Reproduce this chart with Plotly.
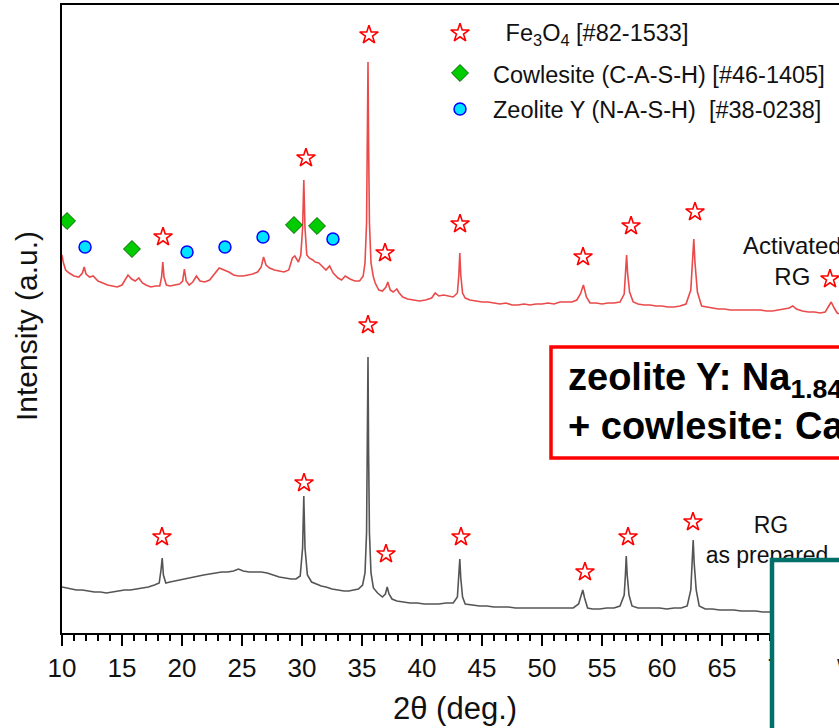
import plotly.graph_objects as go

# ---------------- data ----------------
red_2theta = [10.0, 10.1, 10.3, 10.6, 11.0, 11.4, 11.7, 11.85, 12.0, 12.3, 12.6, 13.0, 13.4, 13.8,
              14.2, 14.6, 15.0, 15.3, 15.5, 15.8, 16.1, 16.4, 16.7, 17.0, 17.4, 17.8, 18.15, 18.3,
              18.4, 18.5, 18.7, 19.0, 19.4, 19.8, 20.05, 20.2, 20.35, 20.6, 20.9, 21.2, 21.5, 21.9,
              22.3, 22.7, 23.1, 23.5, 23.9, 24.3, 24.7, 25.1, 25.5, 25.9, 26.3, 26.6, 26.8, 27.0,
              27.3, 27.7, 28.1, 28.5, 28.9, 29.2, 29.4, 29.7, 29.9, 30.05, 30.15, 30.25, 30.4, 30.6,
              30.9, 31.1, 31.4, 31.7, 32.0, 32.3, 32.6, 33.0, 33.3, 33.6, 34.0, 34.4, 34.8, 35.1,
              35.25, 35.38, 35.45, 35.5, 35.55, 35.62, 35.75, 35.95, 36.1, 36.4, 36.7, 37.0, 37.15,
              37.35, 37.6, 37.9, 38.1, 38.4, 38.8, 39.3, 39.8, 40.3, 40.8, 41.1, 41.4, 41.8, 42.2,
              42.6, 42.95, 43.07, 43.15, 43.23, 43.38, 43.6, 44.0, 44.5, 45.0, 45.5, 46.0, 46.5,
              47.0, 47.5, 48.0, 48.5, 49.0, 49.5, 50.0, 50.5, 51.0, 51.5, 52.0, 52.5, 52.9, 53.2,
              53.45, 53.7, 54.0, 54.5, 55.0, 55.5, 56.0, 56.5, 56.85, 56.97, 57.05, 57.13, 57.3,
              57.6, 58.0, 58.5, 59.0, 59.5, 60.0, 60.5, 61.0, 61.5, 62.0, 62.4, 62.55, 62.65, 62.75,
              62.95, 63.3, 63.7, 64.2, 64.7, 65.2, 65.7, 66.2, 66.7, 67.2, 67.7, 68.2, 68.7, 69.2,
              69.7, 70.2, 70.6, 70.9, 71.2, 71.7, 72.2, 72.7, 73.2, 73.6, 73.9, 74.1, 74.35, 74.6,
              74.8]
red_intensity = [378, 371, 363, 360, 357, 356, 360, 366, 359, 356, 357, 352, 350, 348,
                 347, 346, 348, 354, 358, 354, 352, 355, 350, 348, 346, 347, 347, 356,
                 371, 356, 348, 347, 348, 349, 352, 364, 352, 348, 351, 357, 352, 351,
                 353, 359, 365, 363, 361, 358, 357, 357, 358, 359, 361, 366, 376, 368,
                 365, 363, 362, 361, 363, 375, 377, 371, 378, 405, 453, 405, 378, 375,
                 373, 371, 370, 366, 363, 367, 360, 355, 353, 357, 354, 352, 352, 357,
                 370, 410, 490, 571, 490, 410, 370, 356, 350, 343, 342, 346, 351,
                 343, 341, 344, 340, 336, 334, 333, 332, 333, 335, 340, 337, 338, 337,
                 336, 340, 358, 380, 358, 340, 335, 333, 332, 331, 331, 330, 329,
                 330, 328, 328, 329, 328, 329, 329, 330, 329, 331, 331, 331, 333, 339,
                 348, 336, 330, 330, 329, 330, 330, 331, 339, 360, 378, 360, 341,
                 331, 329, 328, 328, 327, 327, 326, 326, 327, 329, 343, 370, 394, 370,
                 341, 327, 326, 325, 324, 324, 323, 323, 323, 323, 323, 323, 322, 322,
                 323, 324, 325, 327, 324, 322, 321, 321, 320, 321, 327, 331, 325, 320,
                 319]

black_2theta = [10.0, 10.4, 10.8, 11.2, 11.7, 12.2, 12.7, 13.2, 13.7, 14.2, 14.7, 15.2, 15.7,
                16.2, 16.7, 17.2, 17.7, 18.1, 18.25, 18.35, 18.45, 18.65, 19.0, 19.4, 19.8,
                20.3, 20.8, 21.3, 21.8, 22.3, 22.8, 23.3, 23.8, 24.3, 24.7, 25.1, 25.6, 26.1,
                26.6, 27.1, 27.6, 28.1, 28.6, 29.1, 29.5, 29.85, 30.05, 30.15, 30.25, 30.45,
                30.8, 31.2, 31.6, 32.0, 32.5, 33.0, 33.5, 33.9, 34.3, 34.7, 35.05, 35.25,
                35.38, 35.45, 35.5, 35.55, 35.62, 35.75, 35.95, 36.3, 36.7, 36.95, 37.1,
                37.25, 37.5, 37.9, 38.4, 39.0, 39.6, 40.2, 40.8, 41.4, 42.0, 42.6, 42.95,
                43.07, 43.15, 43.23, 43.38, 43.6, 44.2, 44.8, 45.4, 46.0, 46.6, 47.2, 47.8,
                48.4, 49.0, 49.6, 50.2, 50.8, 51.4, 52.0, 52.6, 53.05, 53.25, 53.4, 53.55,
                53.8, 54.2, 54.8, 55.4, 56.0, 56.5, 56.85, 56.95, 57.02, 57.1, 57.25, 57.5,
                58.0, 58.6, 59.2, 59.8, 60.4, 61.0, 61.6, 62.1, 62.4, 62.52, 62.6, 62.68,
                62.85, 63.1, 63.6, 64.2, 64.8, 65.4, 66.0, 66.6, 67.2, 67.8, 68.4, 69.0,
                69.6, 70.2, 71.0, 72.0, 73.0, 74.0, 74.8]
black_intensity = [46, 45, 44, 43, 43, 42, 41, 41, 40, 41, 42, 43, 43,
                   44, 45, 46, 48, 50, 63, 75, 58, 50, 51, 52, 53,
                   55, 56, 57, 58, 59, 60, 61, 61, 62, 64, 62, 61, 61,
                   61, 60, 58, 56, 55, 54, 54, 57, 85, 137, 85, 58,
                   51, 49, 47, 46, 44, 43, 42, 42, 43, 44, 48, 60,
                   100, 180, 276, 180, 100, 60, 45, 40, 36, 39, 46,
                   39, 34, 32, 31, 30, 30, 29, 29, 29, 30, 30, 36,
                   55, 74, 55, 36, 29, 28, 27, 27, 26, 26, 26, 25,
                   25, 25, 25, 25, 25, 25, 25, 25, 29, 37, 43, 35,
                   25, 24, 24, 25, 25, 27, 38, 58, 77, 58, 38, 27,
                   25, 25, 25, 25, 24, 25, 25, 27, 43, 70, 93, 70,
                   43, 27, 24, 24, 23, 23, 23, 22, 22, 22, 21, 21,
                   21, 21, 21, 20, 20, 20, 20]

# phase markers (2theta, marker height)
fe3o4_act_2theta = [18.42, 30.33, 35.58, 36.92, 43.17, 53.42, 57.42, 62.75, 74.0]
fe3o4_act_height = [396, 475, 598, 380, 409, 376, 407, 421, 354]
fe3o4_rg_2theta = [18.33, 30.17, 35.5, 37.0, 43.25, 53.58, 57.17, 62.58]
fe3o4_rg_height = [96, 150, 308, 79, 96, 61, 96, 111]
cowlesite_2theta = [10.42, 15.83, 29.33, 31.25]
cowlesite_height = [412, 384, 408, 407]
zeoliteY_2theta = [11.92, 20.42, 23.58, 26.75, 32.58]
zeoliteY_height = [386, 381, 386, 396, 394]

legend_labels = [" Fe<sub>3</sub>O<sub>4</sub> [#82-1533]",
                 "Cowlesite (C-A-S-H) [#46-1405]",
                 "Zeolite Y (N-A-S-H)  [#38-0238]"]
x_ticks = [10, 15, 20, 25, 30, 35, 40, 45, 50, 55, 60, 65, 70]

# ---------------- layout geometry ----------------
W, H = 839, 728
PL, PR, PT, PB = 62, 839, 5, 633
X_RANGE = [10, 74.75]
Y_RANGE = [0, 628]
FONT = "Liberation Sans, Arial, sans-serif"


def fx(px):
    return (px - PL) / (PR - PL)


def fy(py):
    return (PB - py) / (PB - PT)


def dx(px):
    return X_RANGE[0] + fx(px) * (X_RANGE[1] - X_RANGE[0])


def dy(py):
    return Y_RANGE[0] + fy(py) * (Y_RANGE[1] - Y_RANGE[0])


STAR = dict(symbol="star-open", size=14, color="#ff0000", line=dict(width=1.6, color="#ff0000"))
DIAM = dict(symbol="diamond", size=13, color="#00cc00", line=dict(width=1, color="#006600"))
CIRC = dict(symbol="circle", size=12, color="#00e5ff", line=dict(width=1.5, color="#0000ff"))

fig = go.Figure()
fig.add_trace(go.Scatter(x=black_2theta, y=black_intensity, mode="lines",
                         line=dict(color="#555555", width=1.6), showlegend=False))
fig.add_trace(go.Scatter(x=red_2theta, y=red_intensity, mode="lines",
                         line=dict(color="#ea4a4a", width=1.6), showlegend=False))
fig.add_trace(go.Scatter(x=fe3o4_act_2theta, y=fe3o4_act_height, mode="markers",
                         marker=STAR, showlegend=False))
fig.add_trace(go.Scatter(x=fe3o4_rg_2theta, y=fe3o4_rg_height, mode="markers",
                         marker=STAR, showlegend=False))
fig.add_trace(go.Scatter(x=cowlesite_2theta, y=cowlesite_height, mode="markers",
                         marker=DIAM, showlegend=False))
fig.add_trace(go.Scatter(x=zeoliteY_2theta, y=zeoliteY_height, mode="markers",
                         marker=CIRC, showlegend=False))

# legend keys
leg_y_px = [33, 73, 109]
for m, ypx in zip([STAR, DIAM, CIRC], leg_y_px):
    fig.add_trace(go.Scatter(x=[dx(460)], y=[dy(ypx)], mode="markers", marker=m,
                             showlegend=False, cliponaxis=False))

# "RG as prepared" label as text trace (so the teal box can cover it)
fig.add_trace(go.Scatter(x=[dx(771), dx(767)], y=[dy(527), dy(557)], mode="text",
                         text=["RG", "as prepared"], textposition="middle center",
                         textfont=dict(family=FONT, size=23, color="#111111"),
                         showlegend=False, cliponaxis=False))

annotations = []
leg_x_px = [497, 491, 491]
for lab, xp, yp in zip(legend_labels, leg_x_px, [35, 75, 110]):
    annotations.append(dict(x=fx(xp), y=fy(yp), xref="paper", yref="paper", text=lab,
                            showarrow=False, xanchor="left", yanchor="middle",
                            font=dict(family=FONT, size=23.5, color="#111111")))
annotations.append(dict(x=fx(792), y=fy(261), xref="paper", yref="paper",
                        text="Activated<br>RG", showarrow=False, xanchor="center",
                        yanchor="middle", align="center",
                        font=dict(family=FONT, size=24, color="#111111")))
annotations.append(dict(x=fx(566), y=fy(404), xref="paper", yref="paper",
                        text="<b>zeolite Y: Na<sub>1.84</sub>Al<sub>2</sub>Si<sub>4</sub>O<sub>11.68</sub>·8H<sub>2</sub>O"
                             "<br>+ cowlesite: CaAl<sub>2</sub>Si<sub>3</sub>O<sub>10</sub>·5.3H<sub>2</sub>O</b>",
                        showarrow=False, xanchor="left", yanchor="middle", align="left",
                        font=dict(family=FONT, size=38, color="#000000")))
annotations.append(dict(x=fx(27), y=fy(326), xref="paper", yref="paper",
                        text="Intensity (a.u.)", textangle=-90, showarrow=False,
                        xanchor="center", yanchor="middle",
                        font=dict(family=FONT, size=30, color="#111111")))
annotations.append(dict(x=fx(455), y=fy(708), xref="paper", yref="paper",
                        text="2θ (deg.)", showarrow=False, xanchor="center", yanchor="middle",
                        font=dict(family=FONT, size=31, color="#111111")))

shapes = [
    dict(type="rect", xref="paper", yref="paper", x0=fx(551), x1=fx(950), y0=fy(458), y1=fy(347),
         line=dict(color="#ff0000", width=3.5), fillcolor="rgba(255,255,255,0)", layer="above"),
    dict(type="rect", xref="paper", yref="paper", x0=fx(772), x1=fx(950), y0=fy(820), y1=fy(560),
         line=dict(color="#007068", width=4.5), fillcolor="#ffffff", layer="above"),
]

fig.update_layout(
    width=W, height=H,
    margin=dict(l=PL, r=W - PR, t=PT, b=H - PB, pad=0),
    paper_bgcolor="white", plot_bgcolor="white",
    showlegend=False,
    annotations=annotations,
    shapes=shapes,
    font=dict(family=FONT, color="#111111"),
    xaxis=dict(range=X_RANGE, tickmode="array", tickvals=x_ticks,
               ticktext=[str(t) for t in x_ticks],
               ticks="outside", ticklen=11, tickwidth=2, tickcolor="black",
               minor=dict(dtick=1, tick0=10, ticks="outside", ticklen=6, tickwidth=1.5,
                          tickcolor="black", showgrid=False),
               showline=True, linewidth=2, linecolor="black", mirror=True,
               showgrid=False, zeroline=False,
               tickfont=dict(family=FONT, size=26, color="#111111")),
    yaxis=dict(range=Y_RANGE, showticklabels=False, ticks="", showgrid=False,
               zeroline=False, showline=True, linewidth=2, linecolor="black"),
)

fig.add_annotation(x=fx(835), y=fy(667), xref="paper", yref="paper", text="W",
                   showarrow=False, xanchor="left", yanchor="middle",
                   font=dict(family=FONT, size=24, color="#222222"))

fig.write_html("out.html", config={"displayModeBar": False},
               post_script="document.body.style.margin='0';document.body.style.overflow='hidden';")
